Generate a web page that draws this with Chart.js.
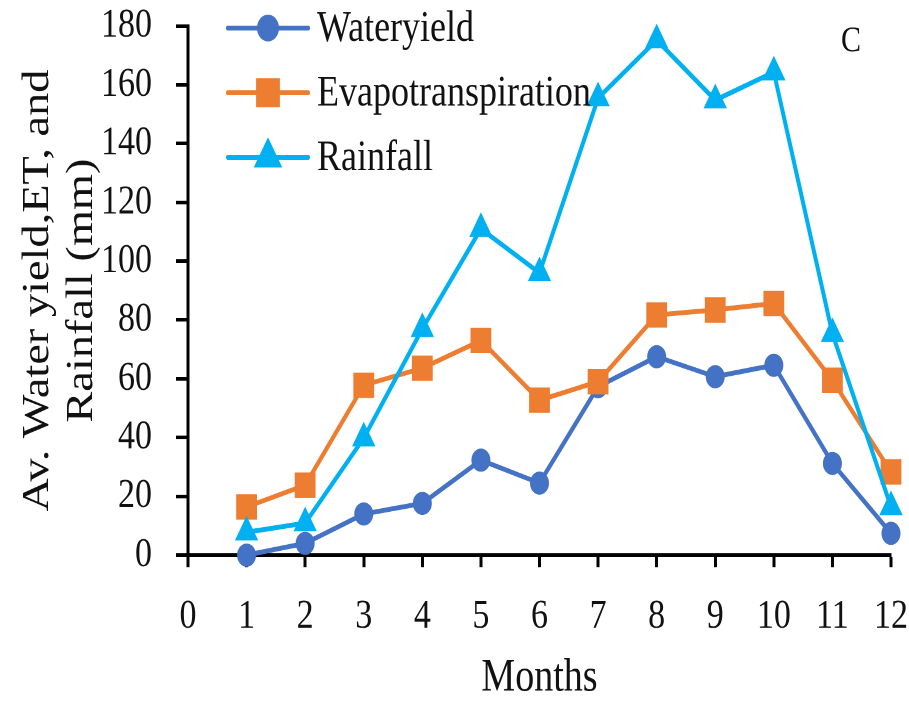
<!DOCTYPE html>
<html>
<head>
<meta charset="utf-8">
<script src="https://cdn.jsdelivr.net/npm/chart.js@4/dist/chart.umd.min.js"></script>
<style>
  html { overflow: hidden; }
  html, body { margin: 0; padding: 0; background: #fff; height: 702px; }
  /* the reference picture is stretched vertically, so stretch the canvas the same way */
  #chart { transform: scaleY(1.22); transform-origin: 0 0; }
</style>
</head>
<body>
<canvas id="chart" width="909" height="575"></canvas>
<script>
// DATA
const months = [1, 2, 3, 4, 5, 6, 7, 8, 9, 10, 11, 12];
const waterYield = [0, 4, 14, 17.6, 32.3, 24.5, 57.3, 67.5, 60.7, 64.6, 31.2, 7.4];
const evapo = [16.4, 23.8, 57.8, 63.6, 73, 52.7, 59, 81.7, 83.4, 85.6, 59.5, 28.3];
const rainfall = [7.8, 10.9, 39.8, 77, 111, 96, 155.5, 175.2, 154.8, 164.3, 75.3, 16.4];
const seriesNames = ['Wateryield', 'Evapotranspiration', 'Rainfall'];
const yTitle = ['Av. Water yield,ET, and', 'Rainfall (mm)'];
const xTitle = 'Months';
const panelLabel = 'C';

const FONT = "'Liberation Serif', 'Times New Roman', serif";

function points(values) {
    return months.map((m, i) => ({ x: m, y: values[i] }));
}

function series(label, values, color, style, radius, order) {
    return {
        label: label,
        data: points(values),
        borderColor: color,
        backgroundColor: color,
        borderWidth: 4,
        pointStyle: style,
        pointRadius: radius,
        pointBorderWidth: 1,
        pointBackgroundColor: color,
        pointBorderColor: color,
        tension: 0,
        clip: false,
        order: order
    };
}

// LEGEND + PANEL LABEL (line with marker, drawn inside the plot)
const lineLegend = {
    id: 'lineLegend',
    afterDraw(chart) {
        const ctx = chart.ctx;
        const area = chart.chartArea;
        const x0 = area.left + 40, x1 = area.left + 120;
        const rowY = [23, 76, 129];
        ctx.save();
        chart.data.datasets.forEach((ds, i) => {
            const y = rowY[i];
            ctx.strokeStyle = ds.borderColor;
            ctx.fillStyle = ds.borderColor;
            ctx.lineWidth = 4;
            ctx.lineCap = 'round';
            ctx.beginPath();
            ctx.moveTo(x0, y);
            ctx.lineTo(x1, y);
            ctx.stroke();
            Chart.helpers.drawPoint(ctx, {
                pointStyle: ds.pointStyle, radius: ds.pointRadius, rotation: 0, borderWidth: 1
            }, (x0 + x1) / 2, y);
            ctx.fillStyle = '#111';
            ctx.font = '36px ' + FONT;
            ctx.textAlign = 'left';
            ctx.textBaseline = 'middle';
            ctx.fillText(ds.label, x1 + 9, y + 1);
        });
        ctx.font = '30px ' + FONT;
        ctx.fillStyle = '#111';
        ctx.textAlign = 'center';
        ctx.fillText(panelLabel, 851, 34);
        ctx.restore();
    }
};

new Chart(document.getElementById('chart'), {
    type: 'line',
    data: {
        datasets: [
            series(seriesNames[0], waterYield, '#4472C4', 'circle', 9, 3),
            series(seriesNames[1], evapo, '#ED7D31', 'rect', 14, 2),
            series(seriesNames[2], rainfall, '#00B0F0', 'triangle', 12.5, 1)
        ]
    },
    options: {
        responsive: false,
        animation: false,
        devicePixelRatio: 2,
        layout: { padding: 0 },
        plugins: { legend: { display: false }, tooltip: { enabled: false } },
        scales: {
            x: {
                type: 'linear',
                min: 0,
                max: 12,
                afterFit(scale) {
                    scale.height = 120;
                    scale.paddingLeft = 0;
                    scale.paddingRight = 18;
                },
                ticks: { stepSize: 1, autoSkip: false, maxRotation: 0, padding: 20, color: '#111',
                         font: { family: FONT, size: 34 } },
                grid: { drawOnChartArea: false, drawTicks: true, tickLength: 10, tickWidth: 3, color: '#000' },
                border: { display: true, color: '#000', width: 3 },
                title: { display: true, text: xTitle, color: '#111', padding: { top: 0, bottom: -3 },
                         font: { family: FONT, size: 38, lineHeight: 1.16 } }
            },
            y: {
                type: 'linear',
                min: 0,
                max: 180,
                afterFit(scale) {
                    scale.width = 188;
                    scale.paddingTop = 21.3;
                    scale.paddingBottom = 0;
                },
                ticks: { stepSize: 20, padding: 24, color: '#111',
                         font: { family: FONT, size: 34 } },
                grid: { drawOnChartArea: false, drawTicks: true, tickLength: 12, tickWidth: 3, color: '#000' },
                border: { display: true, color: '#000', width: 3 },
                title: { display: true, text: yTitle, color: '#111', padding: { top: 16, bottom: 0 },
                         font: { family: FONT, size: 38, lineHeight: 1.16 } }
            }
        }
    },
    plugins: [lineLegend]
});
</script>
</body>
</html>
